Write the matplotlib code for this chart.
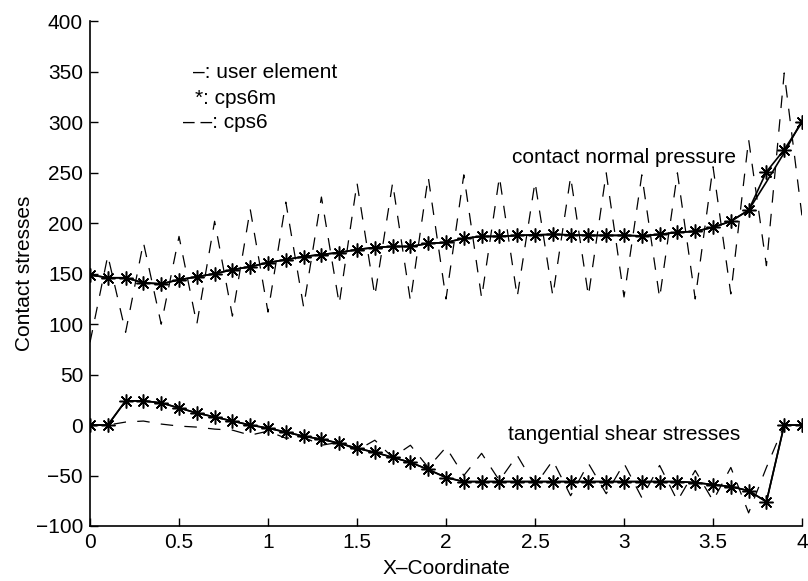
import numpy as np
import matplotlib.pyplot as plt

plt.rcParams['font.family'] = ['Liberation Sans', 'DejaVu Sans']

# abscisses des noeuds de contact
x_coord = np.linspace(0, 4, 41)

# pression normale de contact
p_cps6m = [149, 146, 146, 141, 140, 144, 147, 150, 154, 157,
           161, 164, 167, 169, 171, 174, 176, 177, 177, 180,
           181, 185, 187, 187, 188, 188.5, 189, 188.5, 188, 188,
           188, 187.5, 189, 191, 192, 196, 202, 213, 251, 273, 300]
p_user = [149, 146, 146, 141, 140, 144, 147, 150, 154, 157,
          161, 164, 167, 169, 171, 174, 176, 177, 177, 180,
          181, 185, 187, 187, 188, 188.5, 189, 188.5, 188, 188,
          188, 187.5, 189, 191, 192, 196, 202, 213, 241, 270, 302]
p_cps6 = [82, 168, 92, 181, 100, 187, 100, 202, 108, 214,
          112, 221, 117, 226, 120, 240, 128, 240, 123, 246,
          125, 248, 126, 246, 127, 241, 128, 246, 128, 250,
          127, 248, 126, 250, 125, 256, 130, 283, 158, 349, 207]

# contrainte de cisaillement tangentielle
t_cps6m = [0, 0, 24, 24, 22, 17, 12, 8, 4, 0,
           -3, -7, -11, -14, -18, -23, -27, -32, -37, -44,
           -52, -56, -56, -56, -56, -56, -56, -56, -56, -56,
           -56, -56, -56, -56, -57, -59, -61, -65, -76, 0, 0]
t_user = t_cps6m
t_cps6 = [0, 0, 3, 4, 1, -1, -2, -4, -5, -10,
          -6, -13, -12, -20, -17, -25, -15, -32, -20, -42,
          -22, -50, -28, -55, -30, -60, -35, -70, -38, -68,
          -38, -72, -40, -75, -45, -75, -42, -87, -42, 0, 0]

fig = plt.figure(figsize=(8.08, 5.81), dpi=100)
ax = fig.add_axes([0.1114, 0.0947, 0.8812, 0.8683])

star = (8, 2, 0)
for yu, ys, yd in [(p_user, p_cps6m, p_cps6), (t_user, t_cps6m, t_cps6)]:
    ax.plot(x_coord, yd, color='k', lw=0.9, dashes=(10, 9))
    ax.plot(x_coord, yu, color='k', lw=1.2)
    ax.plot(x_coord, ys, color='k', lw=1.2, marker=star, ms=10, mew=1.1)

# legende ecrite a la main comme dans l'original
fs = 15
ax.text(0.58, 349, '–: user element', fontsize=fs, va='center')
ax.text(0.59, 324, '*: cps6m', fontsize=fs, va='center')
ax.text(0.52, 300, '– –: cps6', fontsize=fs, va='center')
ax.text(2.37, 265, 'contact normal pressure', fontsize=fs, va='center')
ax.text(2.35, -9, 'tangential shear stresses', fontsize=fs, va='center')

ax.set_xlim(0, 4)
ax.set_ylim(-100, 400)
ax.set_xticks(np.arange(0, 4.01, 0.5))
ax.set_xticklabels(['0', '0.5', '1', '1.5', '2', '2.5', '3', '3.5', '4'])
ax.set_yticks(np.arange(-100, 401, 50))
ax.tick_params(direction='in', length=6, width=1, labelsize=fs, pad=5)
ax.spines['top'].set_visible(False)
ax.spines['right'].set_visible(False)
ax.spines['left'].set_linewidth(1.2)
ax.spines['bottom'].set_linewidth(1.2)
ax.set_xlabel('X–Coordinate', fontsize=fs, labelpad=5)
ax.set_ylabel('Contact stresses', fontsize=fs, labelpad=1)

fig.savefig('out.png', dpi=100)
